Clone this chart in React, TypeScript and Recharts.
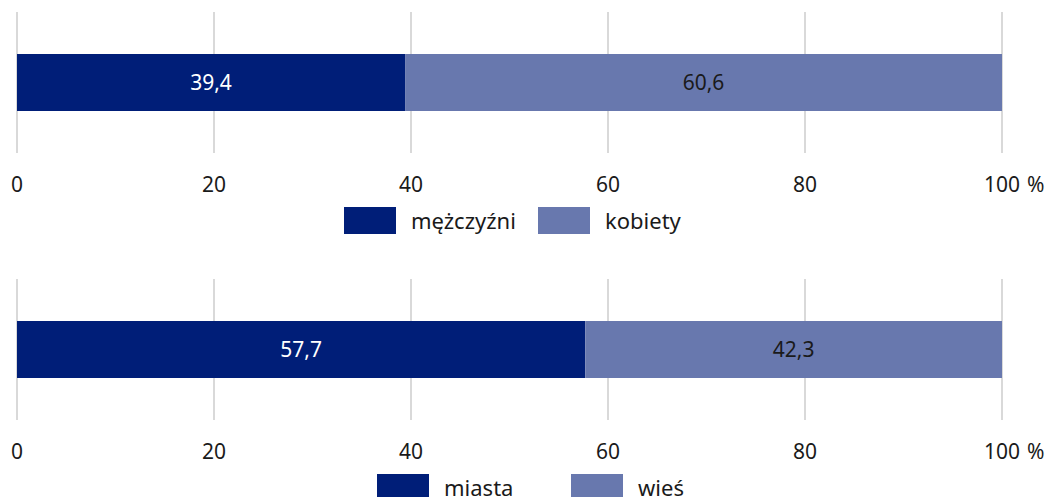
import { BarChart, Bar, XAxis, YAxis, CartesianGrid, LabelList, Legend } from 'recharts'

const ticks = [0, 20, 40, 60, 80, 100]

const genderRow = ['ogółem']
const men = [39.4]
const women = [60.6]

const placeRow = ['ogółem']
const city = [57.7]
const village = [42.3]

const DARK = '#001e78'
const LIGHT = '#6878ae'
const FONT = '"Noto Sans", "Open Sans", sans-serif'

const fmt = (v: number) => v.toFixed(1).replace('.', ',')

function Tick(props: any) {
  const { x, y, payload } = props
  const last = payload.value === 100
  return (
    <g>
      <text x={x} y={y} dy="0.71em" textAnchor="middle" fill="#1a1a1a" fontSize={21} fontFamily={FONT}>
        {payload.value}
      </text>
      {last && (
        <text x={x + 25} y={y} dy="0.71em" textAnchor="start" fill="#1a1a1a" fontSize={21} fontFamily={FONT}>
          %
        </text>
      )}
    </g>
  )
}

function LegendBox({ items, left }: { items: { name: string; color: string }[]; left: number }) {
  return (
    <div style={{ display: 'flex', alignItems: 'center', paddingLeft: left, fontFamily: FONT, fontSize: 22, color: '#1a1a1a' }}>
      {items.map((it, i) => (
        <div key={it.name} style={{ display: 'flex', alignItems: 'center', width: i < items.length - 1 ? 194 : undefined }}>
          <div style={{ width: 52, height: 27, background: it.color, marginRight: 15 }} />
          <span style={{ lineHeight: '27px' }}>{it.name}</span>
        </div>
      ))}
    </div>
  )
}

function StackChart({ cats, a, b, nameA, nameB, height, legendLeft }: { cats: string[]; a: number[]; b: number[]; nameA: string; nameB: string; height: number; legendLeft: number }) {
  const data = cats.map((c, i) => ({ cat: c, a: a[i], b: b[i] }))
  return (
    <BarChart
      width={1049}
      height={height}
      data={data}
      layout="vertical"
      margin={{ top: 12, right: 47, left: 17, bottom: height - 153 - 47 }}
    >
      <CartesianGrid horizontal={false} stroke="#d9d9d9" strokeWidth={2} />
      <XAxis
        type="number"
        domain={[0, 100]}
        ticks={ticks}
        axisLine={false}
        tickLine={false}
        tickSize={22}
        tickMargin={2}
        height={47}
        tick={<Tick />}
        interval={0}
      />
      <YAxis type="category" dataKey="cat" hide />
      <Legend
        layout="horizontal"
        verticalAlign="middle"
        align="center"
        wrapperStyle={{ top: 207, left: 0, width: 1049 }}
        content={() => (
          <LegendBox left={legendLeft} items={[{ name: nameA, color: DARK }, { name: nameB, color: LIGHT }]} />
        )}
      />
      <Bar dataKey="a" name={nameA} stackId="s" fill={DARK} barSize={57} isAnimationActive={false}>
        <LabelList dataKey="a" position="center" formatter={(v: any) => fmt(Number(v))} fill="#ffffff" fontSize={21} fontFamily={FONT} />
      </Bar>
      <Bar dataKey="b" name={nameB} stackId="s" fill={LIGHT} barSize={57} isAnimationActive={false}>
        <LabelList dataKey="b" position="center" formatter={(v: any) => fmt(Number(v))} fill="#1a1a1a" fontSize={21} fontFamily={FONT} />
      </Bar>
    </BarChart>
  )
}

export default function App() {
  return (
    <div style={{ position: 'absolute', left: 0, top: 0, width: 1049, height: 497, overflow: 'hidden', background: '#fff' }}>
      <div style={{ position: 'absolute', left: 0, top: 0 }}>
        <StackChart cats={genderRow} a={men} b={women} nameA="mężczyźni" nameB="kobiety" height={245} legendLeft={344} />
      </div>
      <div style={{ position: 'absolute', left: 0, top: 267 }}>
        <StackChart cats={placeRow} a={city} b={village} nameA="miasta" nameB="wieś" height={245} legendLeft={377} />
      </div>
    </div>
  )
}
